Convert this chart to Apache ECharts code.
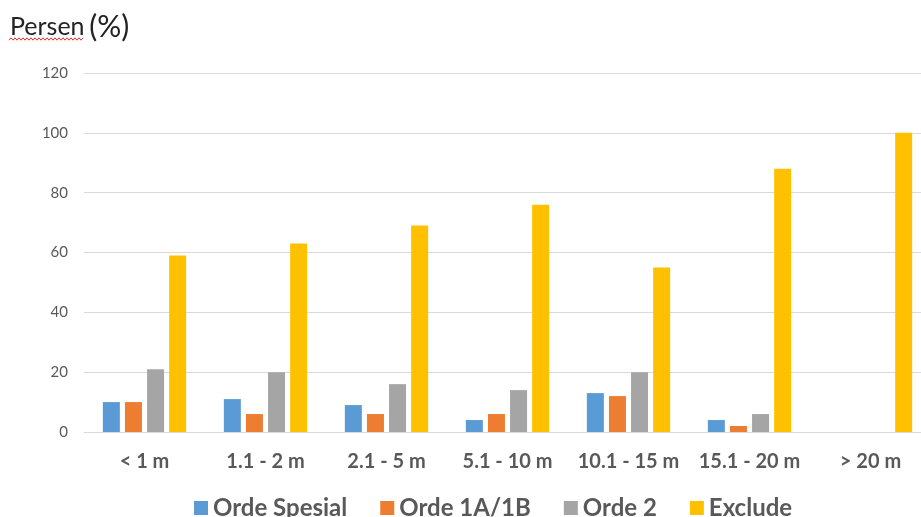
<!DOCTYPE html>
<html><head><meta charset="utf-8">
<script src="https://cdn.jsdelivr.net/npm/echarts@6/dist/echarts.min.js"></script>
<style>html,body{margin:0;padding:0;background:#fff}#c{width:921px;height:517px}</style>
</head><body><div id="c"></div>
<script>
const categories = ['< 1 m','1.1 - 2 m','2.1 - 5 m','5.1 - 10 m','10.1 - 15 m','15.1 - 20 m','> 20 m'];
const seriesNames = ['Orde Spesial','Orde 1A/1B','Orde 2','Exclude'];
const ordeSpesial = [10, 11, 9, 4, 13, 4, 0];
const orde1A1B    = [10, 6, 6, 6, 12, 2, 0];
const orde2       = [21, 20, 16, 14, 20, 6, 0];
const exclude     = [59, 63, 69, 76, 55, 88, 100];
const colors = ['#5b9bd5','#ed7d31','#a5a5a5','#ffc000'];
const values = [ordeSpesial, orde1A1B, orde2, exclude];

// spell-check style wavy underline under "Persen"
const wave = [];
for (let x = 9, k = 0; x <= 84; x += 2, k++) wave.push([x, 39 + (k % 2 ? -1.2 : 1.2)]);

const chart = echarts.init(document.getElementById('c'), null, {renderer:'canvas'});
chart.setOption({
  animation:false,
  color:colors,
  title:{text:'{a|Persen} {b|(%)}', left:5, top:7,
    textStyle:{fontFamily:'Lato', fontWeight:'normal', color:'#222',
      rich:{a:{fontFamily:'Lato', fontSize:25, color:'#222'}, b:{fontFamily:'Lato', fontSize:30, color:'#222'}}}},
  graphic:[{type:'polyline', shape:{points:wave}, style:{stroke:'#e03030', lineWidth:1, fill:null}, silent:true}],
  grid:{left:84, width:847, top:73, bottom:85, containLabel:false, outerBoundsMode:'none'},
  legend:{left:189, top:491, itemWidth:14, itemHeight:14, itemGap:33, icon:'rect',
    textStyle:{fontFamily:'Lato', fontWeight:'bold', fontSize:24, color:'#595959', padding:[0,0,0,0]},
    data:seriesNames},
  xAxis:{type:'category', data:categories,
    axisLine:{lineStyle:{color:'#d9d9d9', width:1}}, axisTick:{show:false},
    axisLabel:{fontFamily:'Lato', fontWeight:'bold', fontSize:20, color:'#595959', margin:20, interval:0}},
  yAxis:{type:'value', min:0, max:120, interval:20,
    axisLine:{show:false}, axisTick:{show:false},
    splitLine:{lineStyle:{color:'#d9d9d9', width:1}},
    axisLabel:{fontFamily:'Lato', fontSize:15, color:'#595959', margin:16}},
  series: seriesNames.map((n,i)=>({name:n, type:'bar', data:values[i], barWidth:17, barGap:'30%',
    itemStyle:{color:colors[i]}}))
});
</script></body></html>
